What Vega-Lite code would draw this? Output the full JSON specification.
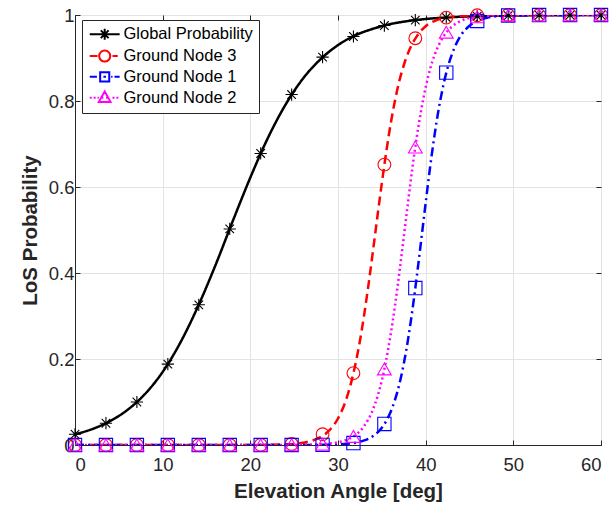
{
  "$schema": "https://vega.github.io/schema/vega-lite/v6.json",
  "width": 526,
  "height": 430,
  "autosize": "none",
  "padding": {"left": 75, "top": 15, "right": 13, "bottom": 66},
  "background": "white",
  "config": {
    "view": {"stroke": "#262626", "strokeWidth": 1},
    "axis": {
      "domainColor": "#262626", "tickColor": "#262626", "labelColor": "#262626", "titleColor": "#262626",
      "labelFont": "Liberation Sans", "titleFont": "Liberation Sans",
      "labelFontSize": 18.5, "titleFontSize": 20.5, "titleFontWeight": "bold",
      "gridColor": "#e3e3e3", "gridWidth": 1, "tickSize": -5, "tickWidth": 1
    }
  },
  "datasets": {
    "lines": [
      {"s": "Global Probability", "x": 0, "y": 0.0249}, {"s": "Global Probability", "x": 2, "y": 0.0373},
      {"s": "Global Probability", "x": 4, "y": 0.0556}, {"s": "Global Probability", "x": 6, "y": 0.0819},
      {"s": "Global Probability", "x": 8, "y": 0.119}, {"s": "Global Probability", "x": 10, "y": 0.170},
      {"s": "Global Probability", "x": 12, "y": 0.2375}, {"s": "Global Probability", "x": 14, "y": 0.321},
      {"s": "Global Probability", "x": 16, "y": 0.417}, {"s": "Global Probability", "x": 18, "y": 0.521},
      {"s": "Global Probability", "x": 20, "y": 0.622}, {"s": "Global Probability", "x": 22, "y": 0.714},
      {"s": "Global Probability", "x": 24, "y": 0.791}, {"s": "Global Probability", "x": 26, "y": 0.852},
      {"s": "Global Probability", "x": 28, "y": 0.897}, {"s": "Global Probability", "x": 30, "y": 0.930},
      {"s": "Global Probability", "x": 32, "y": 0.953}, {"s": "Global Probability", "x": 34, "y": 0.968},
      {"s": "Global Probability", "x": 36, "y": 0.979}, {"s": "Global Probability", "x": 38, "y": 0.986},
      {"s": "Global Probability", "x": 40, "y": 0.9907}, {"s": "Global Probability", "x": 42, "y": 0.9938},
      {"s": "Global Probability", "x": 44, "y": 0.9959}, {"s": "Global Probability", "x": 46, "y": 0.9973},
      {"s": "Global Probability", "x": 48, "y": 0.9982}, {"s": "Global Probability", "x": 50, "y": 0.9988},
      {"s": "Global Probability", "x": 52, "y": 0.9992}, {"s": "Global Probability", "x": 54, "y": 0.9995},
      {"s": "Global Probability", "x": 56, "y": 0.9997}, {"s": "Global Probability", "x": 58, "y": 0.9998},
      {"s": "Global Probability", "x": 60, "y": 0.9999},

      {"s": "Ground Node 3", "x": 0, "y": 0}, {"s": "Ground Node 3", "x": 10, "y": 0},
      {"s": "Ground Node 3", "x": 20, "y": 0.0001}, {"s": "Ground Node 3", "x": 24, "y": 0.0015},
      {"s": "Ground Node 3", "x": 26, "y": 0.0052}, {"s": "Ground Node 3", "x": 27, "y": 0.0098},
      {"s": "Ground Node 3", "x": 28, "y": 0.0182}, {"s": "Ground Node 3", "x": 29, "y": 0.0338},
      {"s": "Ground Node 3", "x": 30, "y": 0.0617}, {"s": "Ground Node 3", "x": 31, "y": 0.110},
      {"s": "Ground Node 3", "x": 32, "y": 0.189}, {"s": "Ground Node 3", "x": 32.5, "y": 0.242},
      {"s": "Ground Node 3", "x": 33, "y": 0.305}, {"s": "Ground Node 3", "x": 33.5, "y": 0.376},
      {"s": "Ground Node 3", "x": 34, "y": 0.453}, {"s": "Ground Node 3", "x": 34.5, "y": 0.532},
      {"s": "Ground Node 3", "x": 35, "y": 0.609}, {"s": "Ground Node 3", "x": 35.5, "y": 0.681},
      {"s": "Ground Node 3", "x": 36, "y": 0.746}, {"s": "Ground Node 3", "x": 36.5, "y": 0.801},
      {"s": "Ground Node 3", "x": 37, "y": 0.847}, {"s": "Ground Node 3", "x": 37.5, "y": 0.883},
      {"s": "Ground Node 3", "x": 38, "y": 0.912}, {"s": "Ground Node 3", "x": 39, "y": 0.951},
      {"s": "Ground Node 3", "x": 40, "y": 0.974}, {"s": "Ground Node 3", "x": 41, "y": 0.986},
      {"s": "Ground Node 3", "x": 42, "y": 0.9924}, {"s": "Ground Node 3", "x": 43, "y": 0.996},
      {"s": "Ground Node 3", "x": 44, "y": 0.9979}, {"s": "Ground Node 3", "x": 46, "y": 0.9994},
      {"s": "Ground Node 3", "x": 48, "y": 0.9998}, {"s": "Ground Node 3", "x": 50, "y": 1},
      {"s": "Ground Node 3", "x": 60, "y": 1},

      {"s": "Ground Node 1", "x": 0, "y": 0}, {"s": "Ground Node 1", "x": 10, "y": 0},
      {"s": "Ground Node 1", "x": 20, "y": 0}, {"s": "Ground Node 1", "x": 28, "y": 0.0003},
      {"s": "Ground Node 1", "x": 29, "y": 0.0007}, {"s": "Ground Node 1", "x": 30, "y": 0.0014},
      {"s": "Ground Node 1", "x": 31, "y": 0.0027}, {"s": "Ground Node 1", "x": 32, "y": 0.0053},
      {"s": "Ground Node 1", "x": 33, "y": 0.0106}, {"s": "Ground Node 1", "x": 34, "y": 0.0207},
      {"s": "Ground Node 1", "x": 35, "y": 0.0403}, {"s": "Ground Node 1", "x": 35.5, "y": 0.0558},
      {"s": "Ground Node 1", "x": 36, "y": 0.0769}, {"s": "Ground Node 1", "x": 36.5, "y": 0.105},
      {"s": "Ground Node 1", "x": 37, "y": 0.1417}, {"s": "Ground Node 1", "x": 37.5, "y": 0.1886},
      {"s": "Ground Node 1", "x": 38, "y": 0.2467}, {"s": "Ground Node 1", "x": 38.5, "y": 0.3157},
      {"s": "Ground Node 1", "x": 39, "y": 0.394}, {"s": "Ground Node 1", "x": 39.5, "y": 0.478},
      {"s": "Ground Node 1", "x": 40, "y": 0.563}, {"s": "Ground Node 1", "x": 40.5, "y": 0.645},
      {"s": "Ground Node 1", "x": 41, "y": 0.719}, {"s": "Ground Node 1", "x": 41.5, "y": 0.783},
      {"s": "Ground Node 1", "x": 42, "y": 0.835}, {"s": "Ground Node 1", "x": 42.5, "y": 0.877},
      {"s": "Ground Node 1", "x": 43, "y": 0.909}, {"s": "Ground Node 1", "x": 44, "y": 0.952},
      {"s": "Ground Node 1", "x": 45, "y": 0.975}, {"s": "Ground Node 1", "x": 46, "y": 0.9874},
      {"s": "Ground Node 1", "x": 47, "y": 0.9936}, {"s": "Ground Node 1", "x": 48, "y": 0.9968},
      {"s": "Ground Node 1", "x": 50, "y": 0.9992}, {"s": "Ground Node 1", "x": 52, "y": 0.9998},
      {"s": "Ground Node 1", "x": 60, "y": 1},

      {"s": "Ground Node 2", "x": 0, "y": 0}, {"s": "Ground Node 2", "x": 10, "y": 0},
      {"s": "Ground Node 2", "x": 20, "y": 0}, {"s": "Ground Node 2", "x": 26, "y": 0.0004},
      {"s": "Ground Node 2", "x": 28, "y": 0.0017}, {"s": "Ground Node 2", "x": 29, "y": 0.0032},
      {"s": "Ground Node 2", "x": 30, "y": 0.0062}, {"s": "Ground Node 2", "x": 31, "y": 0.0121},
      {"s": "Ground Node 2", "x": 32, "y": 0.0234}, {"s": "Ground Node 2", "x": 33, "y": 0.0445},
      {"s": "Ground Node 2", "x": 34, "y": 0.0832}, {"s": "Ground Node 2", "x": 34.5, "y": 0.1124},
      {"s": "Ground Node 2", "x": 35, "y": 0.150}, {"s": "Ground Node 2", "x": 35.5, "y": 0.198},
      {"s": "Ground Node 2", "x": 36, "y": 0.256}, {"s": "Ground Node 2", "x": 36.5, "y": 0.324},
      {"s": "Ground Node 2", "x": 37, "y": 0.401}, {"s": "Ground Node 2", "x": 37.5, "y": 0.483},
      {"s": "Ground Node 2", "x": 38, "y": 0.566}, {"s": "Ground Node 2", "x": 38.5, "y": 0.646},
      {"s": "Ground Node 2", "x": 39, "y": 0.718}, {"s": "Ground Node 2", "x": 39.5, "y": 0.780},
      {"s": "Ground Node 2", "x": 40, "y": 0.832}, {"s": "Ground Node 2", "x": 40.5, "y": 0.874},
      {"s": "Ground Node 2", "x": 41, "y": 0.906}, {"s": "Ground Node 2", "x": 42, "y": 0.949},
      {"s": "Ground Node 2", "x": 43, "y": 0.973}, {"s": "Ground Node 2", "x": 44, "y": 0.986},
      {"s": "Ground Node 2", "x": 45, "y": 0.9928}, {"s": "Ground Node 2", "x": 46, "y": 0.9963},
      {"s": "Ground Node 2", "x": 48, "y": 0.999}, {"s": "Ground Node 2", "x": 50, "y": 0.9998},
      {"s": "Ground Node 2", "x": 60, "y": 1}
    ],
    "marks": [
      {"s": "Global Probability", "x": 0, "y": 0.025}, {"s": "Global Probability", "x": 3.53, "y": 0.0506},
      {"s": "Global Probability", "x": 7.06, "y": 0.100}, {"s": "Global Probability", "x": 10.59, "y": 0.188},
      {"s": "Global Probability", "x": 14.12, "y": 0.326}, {"s": "Global Probability", "x": 17.65, "y": 0.5025},
      {"s": "Global Probability", "x": 21.18, "y": 0.678}, {"s": "Global Probability", "x": 24.71, "y": 0.815},
      {"s": "Global Probability", "x": 28.24, "y": 0.902}, {"s": "Global Probability", "x": 31.76, "y": 0.950},
      {"s": "Global Probability", "x": 35.29, "y": 0.9755}, {"s": "Global Probability", "x": 38.82, "y": 0.988},
      {"s": "Global Probability", "x": 42.35, "y": 0.9943}, {"s": "Global Probability", "x": 45.88, "y": 0.9972},
      {"s": "Global Probability", "x": 49.41, "y": 0.9987}, {"s": "Global Probability", "x": 52.94, "y": 0.9994},
      {"s": "Global Probability", "x": 56.47, "y": 0.9997}, {"s": "Global Probability", "x": 60, "y": 0.9999},

      {"s": "Ground Node 3", "x": 0, "y": 0}, {"s": "Ground Node 3", "x": 3.53, "y": 0},
      {"s": "Ground Node 3", "x": 7.06, "y": 0}, {"s": "Ground Node 3", "x": 10.59, "y": 0},
      {"s": "Ground Node 3", "x": 14.12, "y": 0}, {"s": "Ground Node 3", "x": 17.65, "y": 0},
      {"s": "Ground Node 3", "x": 21.18, "y": 0.0002}, {"s": "Ground Node 3", "x": 24.71, "y": 0.0023},
      {"s": "Ground Node 3", "x": 28.24, "y": 0.025}, {"s": "Ground Node 3", "x": 31.76, "y": 0.167},
      {"s": "Ground Node 3", "x": 35.29, "y": 0.652}, {"s": "Ground Node 3", "x": 38.82, "y": 0.946},
      {"s": "Ground Node 3", "x": 42.35, "y": 0.994}, {"s": "Ground Node 3", "x": 45.88, "y": 0.9993},
      {"s": "Ground Node 3", "x": 49.41, "y": 1}, {"s": "Ground Node 3", "x": 52.94, "y": 1},
      {"s": "Ground Node 3", "x": 56.47, "y": 1}, {"s": "Ground Node 3", "x": 60, "y": 1},

      {"s": "Ground Node 1", "x": 0, "y": 0}, {"s": "Ground Node 1", "x": 3.53, "y": 0},
      {"s": "Ground Node 1", "x": 7.06, "y": 0}, {"s": "Ground Node 1", "x": 10.59, "y": 0},
      {"s": "Ground Node 1", "x": 14.12, "y": 0}, {"s": "Ground Node 1", "x": 17.65, "y": 0},
      {"s": "Ground Node 1", "x": 21.18, "y": 0}, {"s": "Ground Node 1", "x": 24.71, "y": 0},
      {"s": "Ground Node 1", "x": 28.24, "y": 0.0002}, {"s": "Ground Node 1", "x": 31.76, "y": 0.0045},
      {"s": "Ground Node 1", "x": 35.29, "y": 0.049}, {"s": "Ground Node 1", "x": 38.82, "y": 0.365},
      {"s": "Ground Node 1", "x": 42.35, "y": 0.866}, {"s": "Ground Node 1", "x": 45.88, "y": 0.986},
      {"s": "Ground Node 1", "x": 49.41, "y": 0.9988}, {"s": "Ground Node 1", "x": 52.94, "y": 0.9999},
      {"s": "Ground Node 1", "x": 56.47, "y": 1}, {"s": "Ground Node 1", "x": 60, "y": 1},

      {"s": "Ground Node 2", "x": 0, "y": 0}, {"s": "Ground Node 2", "x": 3.53, "y": 0},
      {"s": "Ground Node 2", "x": 7.06, "y": 0}, {"s": "Ground Node 2", "x": 10.59, "y": 0},
      {"s": "Ground Node 2", "x": 14.12, "y": 0}, {"s": "Ground Node 2", "x": 17.65, "y": 0},
      {"s": "Ground Node 2", "x": 21.18, "y": 0}, {"s": "Ground Node 2", "x": 24.71, "y": 0.0005},
      {"s": "Ground Node 2", "x": 28.24, "y": 0.002}, {"s": "Ground Node 2", "x": 31.76, "y": 0.02},
      {"s": "Ground Node 2", "x": 35.29, "y": 0.177}, {"s": "Ground Node 2", "x": 38.82, "y": 0.693},
      {"s": "Ground Node 2", "x": 42.35, "y": 0.96}, {"s": "Ground Node 2", "x": 45.88, "y": 0.996},
      {"s": "Ground Node 2", "x": 49.41, "y": 0.9996}, {"s": "Ground Node 2", "x": 52.94, "y": 1},
      {"s": "Ground Node 2", "x": 56.47, "y": 1}, {"s": "Ground Node 2", "x": 60, "y": 1}
    ]
  },
  "resolve": {
    "axis": {"x": "independent", "y": "independent"},
    "scale": {"shape": "independent"},
    "legend": {"color": "independent", "shape": "independent"}
  },
  "layer": [
    {
      "data": {"name": "lines"},
      "mark": {"type": "line", "interpolate": "monotone", "strokeWidth": 2.5, "clip": true},
      "encoding": {
        "x": {"field": "x", "type": "quantitative", "scale": {"domain": [0, 60], "nice": false},
              "axis": {"values": [0, 10, 20, 30, 40, 50, 60], "title": "Elevation Angle [deg]", "labelPadding": 15, "titlePadding": 8, "grid": true, "domain": true}},
        "y": {"field": "y", "type": "quantitative", "scale": {"domain": [0, 1], "nice": false},
              "axis": {"values": [0, 0.2, 0.4, 0.6, 0.8, 1], "format": "~g", "title": "LoS Probability", "labelPadding": 6, "titlePadding": 8, "grid": true}},
        "color": {"field": "s", "type": "nominal", "legend": null,
                  "scale": {"domain": ["Global Probability", "Ground Node 3", "Ground Node 1", "Ground Node 2"], "range": ["#000000", "#ff0000", "#0000ff", "#ff00ff"]}},
        "strokeDash": {"field": "s", "type": "nominal", "legend": null,
                  "scale": {"domain": ["Global Probability", "Ground Node 3", "Ground Node 1", "Ground Node 2"], "range": [[1, 0], [9, 5], [9, 4, 2, 4], [2, 3]]}}
      }
    },
    {
      "data": {"name": "marks"},
      "mark": {"type": "point", "filled": false, "strokeWidth": 1.1, "opacity": 1},
      "encoding": {
        "x": {"field": "x", "type": "quantitative", "scale": {"domain": [0, 60], "nice": false},
              "axis": {"orient": "top", "values": [0, 10, 20, 30, 40, 50, 60], "labels": false, "title": null, "grid": false, "domain": false}},
        "y": {"field": "y", "type": "quantitative", "scale": {"domain": [0, 1], "nice": false},
              "axis": {"orient": "right", "values": [0, 0.2, 0.4, 0.6, 0.8, 1], "labels": false, "title": null, "grid": false, "domain": false}},
        "size": {"field": "s", "type": "nominal", "legend": null,
                 "scale": {"domain": ["Global Probability", "Ground Node 3", "Ground Node 1", "Ground Node 2"], "range": [150, 190, 140, 200]}},
        "shape": {"field": "s", "type": "nominal", "legend": null,
                  "scale": {"domain": ["Global Probability", "Ground Node 3", "Ground Node 1", "Ground Node 2"],
                            "range": ["M-1,0L1,0M0,-1L0,1M-0.7,-0.7L0.7,0.7M-0.7,0.7L0.7,-0.7", "circle", "square", "triangle-up"]}},
        "color": {"field": "s", "type": "nominal", "legend": null,
                  "scale": {"domain": ["Global Probability", "Ground Node 3", "Ground Node 1", "Ground Node 2"], "range": ["#000000", "#ff0000", "#0000ff", "#ff00ff"]}}
      }
    },
    {
      "data": {"name": "marks"},
      "transform": [{"filter": "datum.x === 0"}],
      "mark": {"type": "point", "filled": false, "strokeWidth": 2, "opacity": 0},
      "encoding": {
        "x": {"field": "x", "type": "quantitative", "scale": {"domain": [0, 60], "nice": false}, "axis": null},
        "y": {"field": "y", "type": "quantitative", "scale": {"domain": [0, 1], "nice": false}, "axis": null},
        "shape": {"field": "s", "type": "nominal",
                  "scale": {"domain": ["Global Probability", "Ground Node 3", "Ground Node 1", "Ground Node 2"],
                            "range": [
                              "M-1,0L3.6,0M0.45,0L2.15,0M1.3,-0.85L1.3,0.85M0.7,-0.6L1.9,0.6M0.7,0.6L1.9,-0.6",
                              "M-1,0L0.2,0M2.5,0L3.3,0M0.45,0A0.85,0.85 0 1 1 2.15,0A0.85,0.85 0 1 1 0.45,0",
                              "M-1,0L0.1,0M0.6,-0.7L2,-0.7L2,0.7L0.6,0.7ZM1.1,0L1.5,0M2.3,0L2.5,0M2.8,0L3.6,0",
                              "M-1,0L-0.7,0M-0.4,0L-0.1,0M0.2,0L0.4,0M1.3,-0.95L2.2,0.65L0.4,0.65ZM0.9,0L1.1,0M1.5,0L1.7,0M2.5,0L2.8,0M3.1,0L3.4,0"
                            ]},
                  "legend": {
                    "orient": "none", "legendX": 7, "legendY": 5, "title": null,
                    "fillColor": "white", "strokeColor": "#262626", "padding": 6,
                    "labelFont": "Liberation Sans", "labelFontSize": 16.5, "labelColor": "#000000",
                    "symbolSize": 169, "symbolStrokeWidth": 2, "symbolOpacity": 1, "labelOffset": 19, "rowPadding": 1.8
                  }},
        "color": {"field": "s", "type": "nominal",
                  "scale": {"domain": ["Global Probability", "Ground Node 3", "Ground Node 1", "Ground Node 2"], "range": ["#000000", "#ff0000", "#0000ff", "#ff00ff"]},
                  "legend": {
                    "orient": "none", "legendX": 7, "legendY": 5, "title": null,
                    "fillColor": "white", "strokeColor": "#262626", "padding": 6,
                    "labelFont": "Liberation Sans", "labelFontSize": 16.5, "labelColor": "#000000",
                    "symbolSize": 169, "symbolStrokeWidth": 2, "symbolOpacity": 1, "labelOffset": 19, "rowPadding": 1.8
                  }}
      }
    }
  ]
}
